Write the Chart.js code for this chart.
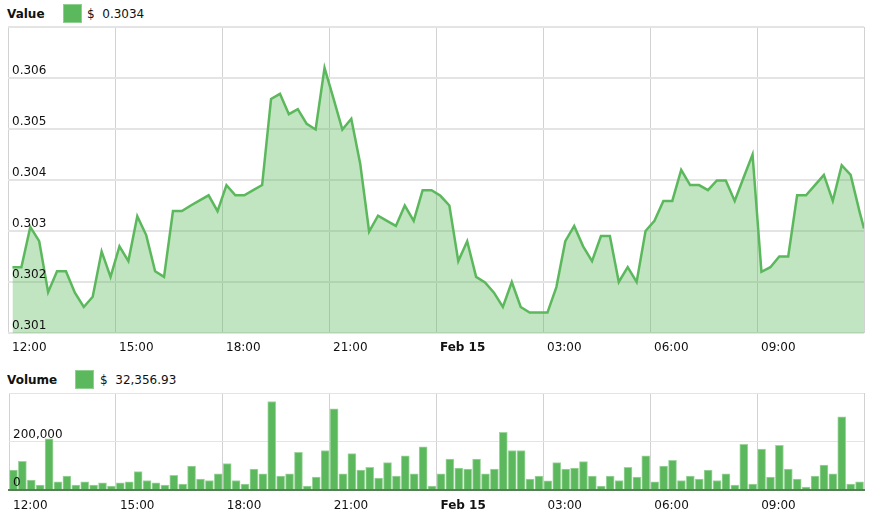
<!DOCTYPE html>
<html>
<head>
<meta charset="utf-8">
<script src="https://cdn.jsdelivr.net/npm/chart.js@4/dist/chart.umd.min.js"></script>
<style>
  html, body { margin: 0; padding: 0; background: #fff; }
  body { width: 875px; height: 519px; position: relative; overflow: hidden;
         font-family: "DejaVu Sans", Verdana, sans-serif; font-size: 12px; color: #111; }
  .legend { position: absolute; height: 20px; line-height: 20px; white-space: nowrap; }
  .legend b { position: absolute; left: 0; top: 0; }
  .legend .box { position: absolute; top: 0; width: 17px; height: 17px;
                 background: #5cb85c; border: 1px solid #8fcf8f; }
  .legend .val { position: absolute; top: 0; }
  .chart-wrap { position: absolute; left: 0; width: 875px; }
</style>
</head>
<body>

<div class="legend" style="left:7px; top:4px;">
  <b>Value</b>
  <span class="box" style="left:56px;"></span>
  <span class="val" style="left:80px;">$&nbsp;&nbsp;<span id="lastPrice"></span></span>
</div>
<div class="chart-wrap" style="top:0; height:360px;"><canvas id="chart-price"></canvas></div>

<div class="legend" style="left:7px; top:370px;">
  <b>Volume</b>
  <span class="box" style="left:68px;"></span>
  <span class="val" style="left:93px;">$&nbsp;&nbsp;<span id="lastVolume"></span></span>
</div>
<div class="chart-wrap" style="top:360px; height:159px;"><canvas id="chart-volume"></canvas></div>

<script>
// ============ DADOS ============
// eixo x em horas desde 12:00 (0..24), um ponto a cada 15 min
var tickLabels = ['12:00', '15:00', '18:00', '21:00', 'Feb 15', '03:00', '06:00', '09:00', ''];

var priceValues = [
  0.30229, 0.30229, 0.30308, 0.30280, 0.30180, 0.30221, 0.30221, 0.30179,
  0.30151, 0.30171, 0.30260, 0.30210, 0.30270, 0.30241, 0.30329, 0.30292,
  0.30221, 0.30210, 0.30339, 0.30339, 0.30350, 0.30360, 0.30370, 0.30339,
  0.30390, 0.30370, 0.30370, 0.30380, 0.30390, 0.30559, 0.30569, 0.30529,
  0.30539, 0.30510, 0.30499, 0.30620, 0.30560, 0.30499, 0.30520, 0.30432,
  0.30299, 0.30330, 0.30320, 0.30310, 0.30350, 0.30320, 0.30380, 0.30380,
  0.30369, 0.30350, 0.30241, 0.30280, 0.30210, 0.30199, 0.30179, 0.30151,
  0.30200, 0.30151, 0.30140, 0.30140, 0.30140, 0.30190, 0.30280, 0.30310,
  0.30270, 0.30241, 0.30290, 0.30290, 0.30200, 0.30229, 0.30200, 0.30300,
  0.30320, 0.30359, 0.30359, 0.30420, 0.30390, 0.30390, 0.30380, 0.30399,
  0.30399, 0.30359, 0.30405, 0.30450, 0.30220, 0.30229, 0.30250, 0.30250,
  0.30370, 0.30370, 0.30390, 0.30410, 0.30359, 0.30429, 0.30410, 0.30338
];
var priceNow = 0.30305; // valor na borda direita (12:00)

var volumeValues = [
   82000, 118000,  41000,  20000, 211000,  34000,  57000,  20000,
   34000,  20000,  30000,  16000,  30000,  34000,  76000,  39000,
   30000,  20000,  61000,  24000,  99000,  45000,  39000,  67000,
  109000,  39000,  24000,  86000,  67000, 365000,  57000,  67000,
  155000,  16000,  53000, 163000, 335000,  67000, 150000,  82000,
   94000,  49000, 113000,  57000, 141000,  67000, 178000,  16000,
   67000, 127000,  90000,  86000, 127000,  67000,  86000, 238000,
  163000, 163000,  45000,  57000,  38000, 113000,  86000,  90000,
  117000,  57000,  16000,  57000,  39000,  94000,  53000, 141000,
   34000,  99000, 122000,  39000,  57000,  45000,  82000,  39000,
   67000,  20000, 188000,  24000, 169000,  53000, 184000,  86000,
   45000,  12000,  57000, 103000,  67000, 302000,  24000,  34000
];

var lastPriceText = '0.3034';
var lastVolumeText = '32,356.93';

var VERDE = '#5cb85c';

document.getElementById('lastPrice').textContent = lastPriceText;
document.getElementById('lastVolume').textContent = lastVolumeText;

Chart.defaults.font.family = '"DejaVu Sans", Verdana, sans-serif';
Chart.defaults.font.size = 12;
Chart.defaults.color = '#111';
Chart.defaults.animation = false;

function pontoX(i) { return (i + 0.5) / 4; }

function ticksX(padding) {
  return {
    stepSize: 3,
    autoSkip: false,
    maxRotation: 0,
    align: 'start',
    labelOffset: 4,
    padding: padding,
    callback: function(v) { return tickLabels[Math.round(v / 3)]; },
    font: function(ctx) {
      return (ctx.tick && ctx.tick.value === 12) ? { weight: 'bold' } : { weight: 'normal' };
    }
  };
}

// eixo y: grade por baixo, rótulos (ticks.z) por cima das barras / área
function eixoY(min, max, step, largura, fmt) {
  return {
    min: min, max: max,
    grid: { color: '#e4e4e4', lineWidth: largura, drawTicks: false },
    border: { display: false },
    ticks: { stepSize: step, mirror: true, padding: 4, labelOffset: -7, z: 1, callback: fmt },
    afterFit: function(s) { s.width = 0; }
  };
}

// ============ GRÁFICO VALOR ============
var priceData = priceValues.map(function(v, i) { return { x: pontoX(i), y: v }; });
priceData.push({ x: 24, y: priceNow });

new Chart(document.getElementById('chart-price'), {
  type: 'line',
  data: {
    datasets: [{
      data: priceData,
      borderColor: VERDE,
      borderWidth: 2.5,
      backgroundColor: 'rgba(92,184,92,0.38)',
      fill: 'start',
      pointRadius: 0,
      tension: 0
    }]
  },
  options: {
    responsive: true,
    maintainAspectRatio: false,
    layout: { padding: { top: 27, left: 7, right: 11, bottom: 0 } },
    plugins: { legend: { display: false }, tooltip: { enabled: false } },
    scales: {
      x: {
        type: 'linear', min: 0, max: 24,
        grid: { color: '#d2d2d2', lineWidth: 1, drawTicks: false },
        border: { display: false },
        ticks: ticksX(8),
        afterFit: function(s) { s.height = 27; }
      },
      y: eixoY(0.301, 0.307, 0.001, 2, function(v) {
        return v > 0.30695 ? '' : v.toFixed(3);
      })
    }
  }
});

// ============ GRÁFICO VOLUME ============
var volumeData = volumeValues.map(function(v, i) { return { x: pontoX(i), y: v }; });

new Chart(document.getElementById('chart-volume'), {
  type: 'bar',
  data: {
    datasets: [{
      data: volumeData,
      backgroundColor: VERDE,
      borderColor: '#9fd59f',
      borderWidth: 1,
      barThickness: 8
    }]
  },
  options: {
    responsive: true,
    maintainAspectRatio: false,
    layout: { padding: { top: 33, left: 7, right: 11, bottom: 0 } },
    plugins: { legend: { display: false }, tooltip: { enabled: false } },
    scales: {
      x: {
        type: 'linear', min: 0, max: 24, offset: false,
        grid: { color: '#d2d2d2', lineWidth: 1, drawTicks: false, offset: false },
        border: { display: true, color: 'rgba(60,110,60,0.85)', width: 2, z: 1 },
        ticks: ticksX(9),
        afterFit: function(s) { s.height = 29; }
      },
      y: eixoY(0, 400000, 200000, 1, function(v) {
        return v >= 400000 ? '' : v.toLocaleString('en-US');
      })
    }
  }
});
</script>
</body>
</html>
